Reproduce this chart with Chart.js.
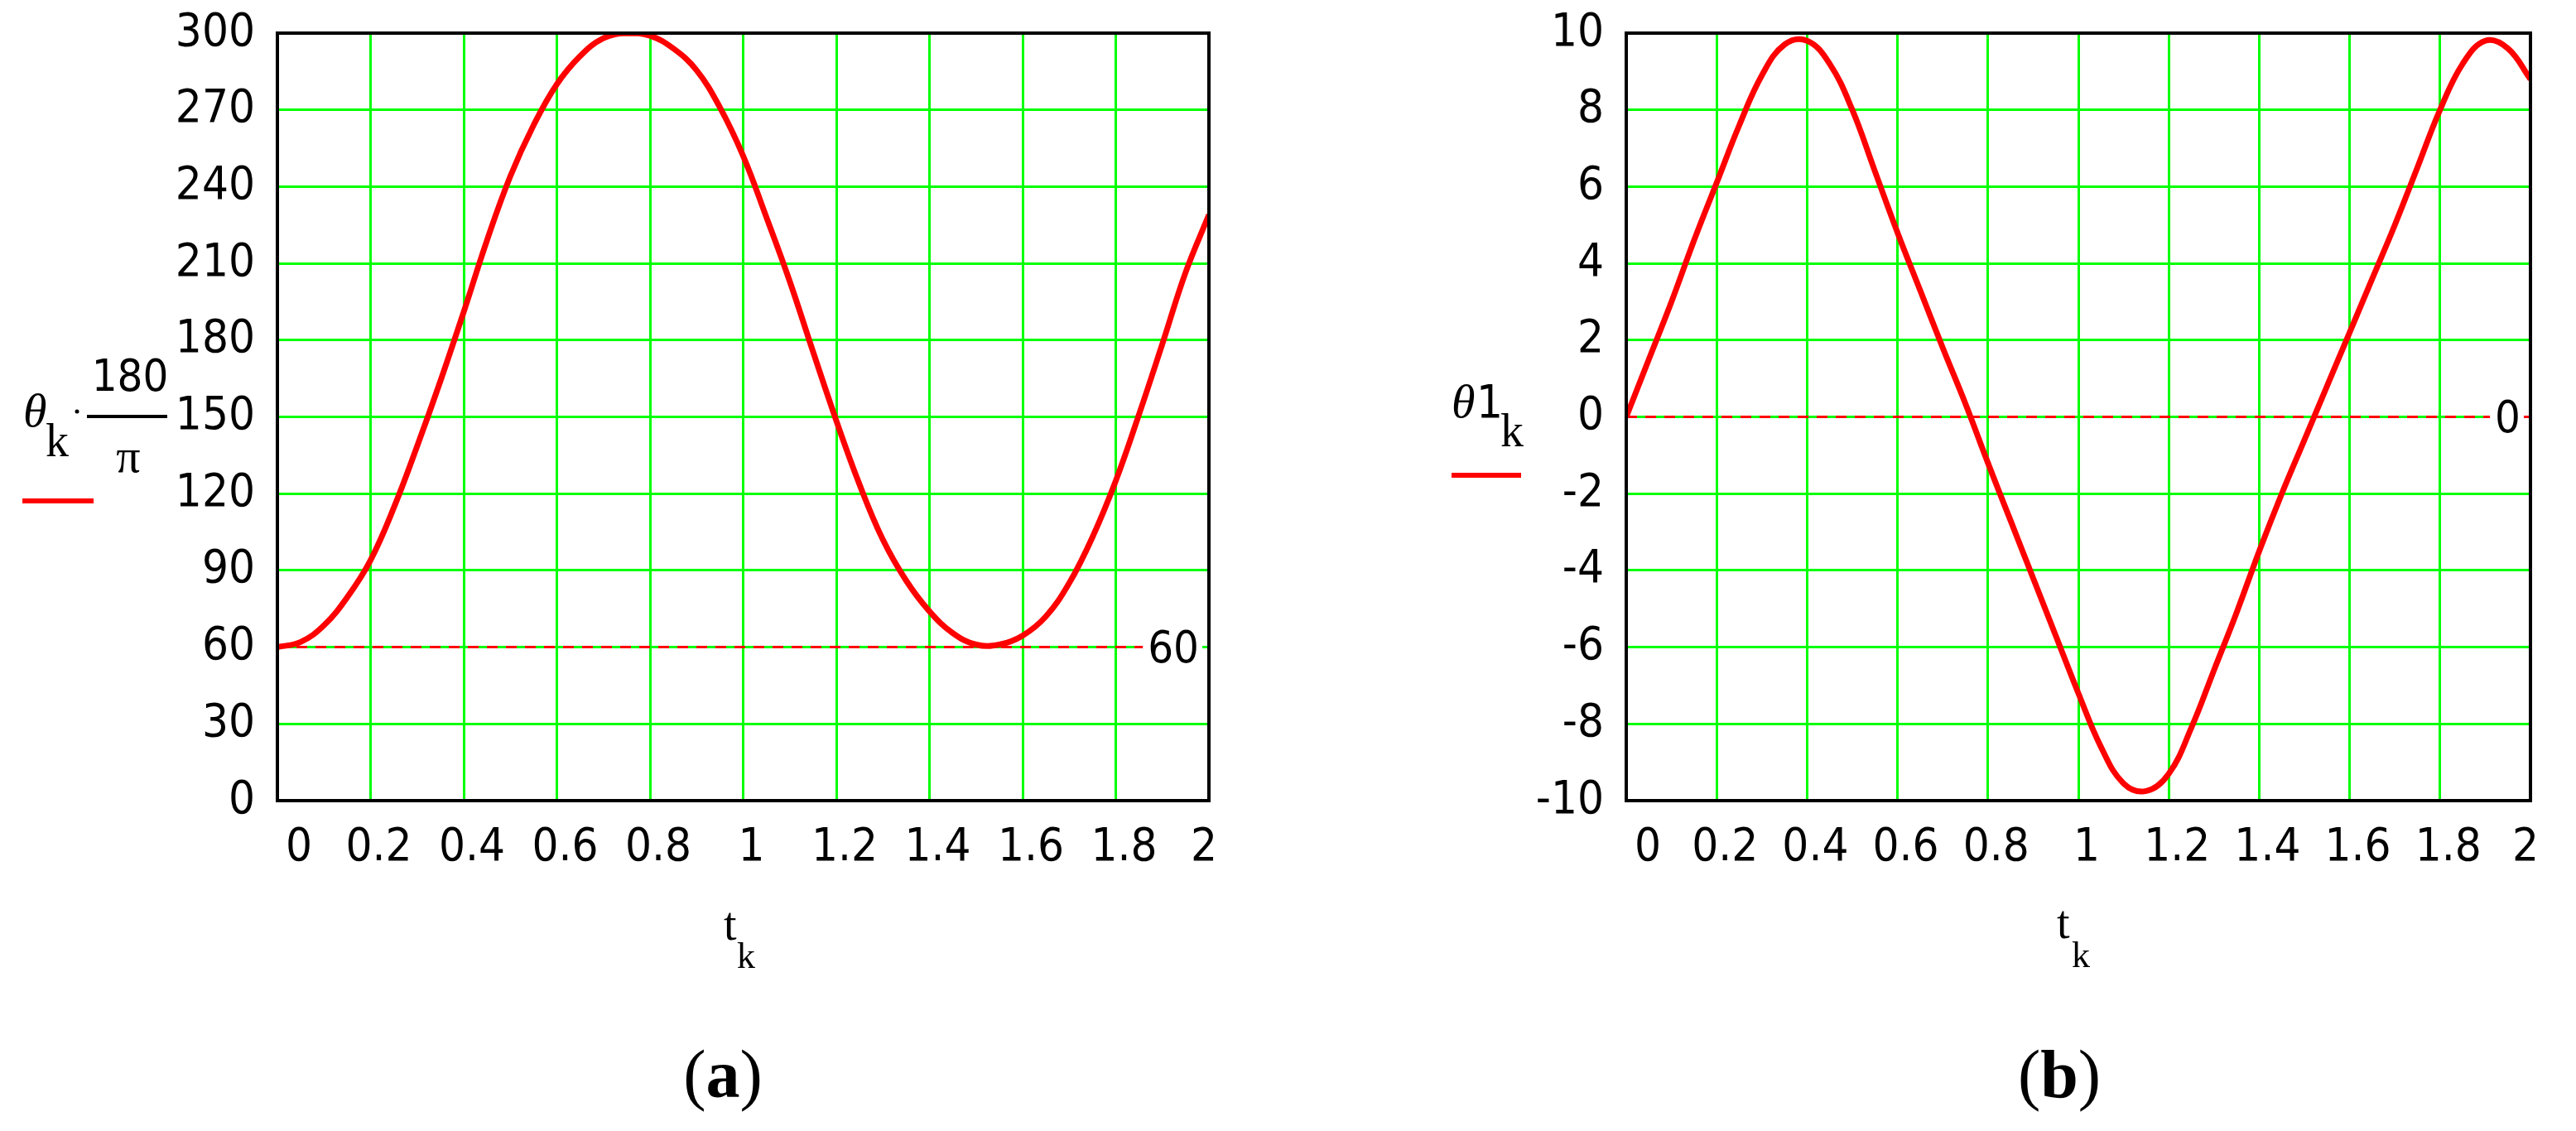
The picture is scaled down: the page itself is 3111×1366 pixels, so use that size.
<!DOCTYPE html>
<html>
<head>
<meta charset="utf-8">
<script src="https://cdn.jsdelivr.net/npm/chart.js@4.4.1/dist/chart.umd.min.js"></script>
<style>
  html, body { margin: 0; padding: 0; background: #fff; }
  body { width: 3111px; height: 1366px; position: relative; overflow: hidden; }
  canvas { position: absolute; top: 0; }
  #chartA { left: 0; }
  #chartB { left: 1540px; }
  svg { position: absolute; left: 0; top: 0; }
  .serif { font-family: 'Liberation Serif', 'DejaVu Serif', serif; }
  .narrow { font-family: 'Liberation Sans Narrow', 'DejaVu Sans Condensed', sans-serif; }
</style>
</head>
<body>
<canvas id="chartA" width="1520" height="1100"></canvas>
<canvas id="chartB" width="1571" height="1100"></canvas>
<svg width="3111" height="1366">
  <!-- (a) y title: theta_k * 180/pi -->
  <text class="serif" x="28" y="515" font-size="58" font-style="italic">θ</text>
  <text class="serif" x="55" y="551" font-size="56">k</text>
  <circle cx="93" cy="497" r="2.5" fill="#000"/>
  <text class="narrow" x="157" y="472" font-size="54" text-anchor="middle">180</text>
  <rect x="105" y="501" width="97" height="4" fill="#000"/>
  <text class="serif" x="155" y="570" font-size="58" text-anchor="middle">π</text>
  <rect x="27" y="602" width="86" height="6" fill="#ff0000"/>
  <!-- (b) y title: theta1_k -->
  <text class="serif" x="1753" y="504" font-size="58" font-style="italic">θ</text>
  <text class="narrow" x="1783" y="504" font-size="56">1</text>
  <text class="serif" x="1812" y="539" font-size="56">k</text>
  <rect x="1753" y="571" width="84" height="6" fill="#ff0000"/>
  <!-- x titles -->
  <text class="serif" x="874" y="1135" font-size="56">t</text>
  <text class="serif" x="890" y="1169" font-size="44">k</text>
  <text class="serif" x="2484" y="1133" font-size="56">t</text>
  <text class="serif" x="2502" y="1168" font-size="44">k</text>
  <!-- captions -->
  <text class="serif" x="873" y="1325" font-size="82" text-anchor="middle">(<tspan font-weight="bold">a</tspan>)</text>
  <text class="serif" x="2487" y="1325" font-size="82" text-anchor="middle">(<tspan font-weight="bold">b</tspan>)</text>
</svg>
<script>
// time samples t_k
const tValues = [0, 0.05, 0.1, 0.15, 0.2, 0.25, 0.3, 0.35, 0.4, 0.45, 0.5, 0.55, 0.6, 0.65, 0.7, 0.75, 0.8, 0.85, 0.9, 0.95,
                 1, 1.05, 1.1, 1.15, 1.2, 1.25, 1.3, 1.35, 1.4, 1.45, 1.5, 1.55, 1.6, 1.65, 1.7, 1.75, 1.8, 1.85, 1.9, 1.95, 2];

// (a) theta_k * 180/pi, degrees
const thetaDeg = [60, 62, 68.5, 79.5, 94, 114.5, 138.5, 164, 191, 219, 244, 264, 280, 291, 298, 300, 299, 294, 285.5, 271,
                  252, 228, 203, 175.5, 148.5, 123.5, 102, 86, 74, 65.5, 61, 61, 64.5, 72, 85, 103, 125, 151, 178.5, 206.5, 229];

// (b) theta1_k
const theta1 = [0, 1.5, 3.0, 4.6, 6.1, 7.6, 8.9, 9.7, 9.8, 9.2, 8.0, 6.4, 4.8, 3.3, 1.8, 0.35, -1.2, -2.7, -4.2, -5.7,
                -7.2, -8.6, -9.55, -9.75, -9.3, -8.1, -6.6, -5.1, -3.5, -2.0, -0.6, 0.8, 2.2, 3.6, 5.0, 6.5, 8.0, 9.2, 9.8, 9.6, 8.8];

// dashed marker lines
const markerA = 60;
const markerB = 0;

// tick labels
const xTickLabels = ['0', '0.2', '0.4', '0.6', '0.8', '1', '1.2', '1.4', '1.6', '1.8', '2'];
const yTicksA = [0, 30, 60, 90, 120, 150, 180, 210, 240, 270, 300];
const yTicksB = [-10, -8, -6, -4, -2, 0, 2, 4, 6, 8, 10];

const tickFamily = "'Liberation Sans Narrow', 'DejaVu Sans Condensed', sans-serif";
const tickFont = { family: tickFamily, size: 56 };

// black box round the plot plus the marker value written at the right end of the dashed line
const framePlugin = {
  id: 'mcFrame',
  afterDatasetsDraw(chart, args, opts) {
    const { ctx, chartArea: a, scales } = chart;
    const y = scales.y.getPixelForValue(opts.marker);
    const label = String(opts.marker);
    ctx.save();
    ctx.font = '54px ' + tickFamily;
    const w = ctx.measureText(label).width;
    const xr = a.right - 12;
    ctx.fillStyle = '#fff';
    ctx.fillRect(xr - w - 6, y - 6, w + 10, 12);
    ctx.fillStyle = '#000';
    ctx.textAlign = 'right';
    ctx.textBaseline = 'middle';
    ctx.fillText(label, xr, y + 4);
    ctx.lineWidth = 4;
    ctx.strokeStyle = '#000';
    ctx.strokeRect(a.left, a.top, a.width, a.height);
    ctx.restore();
  }
};

function makeChart(id, values, marker, yTicks, yAxisWidth, padRight) {
  const points = tValues.map((t, i) => ({ x: t, y: values[i] }));
  const markerLine = [{ x: tValues[0], y: marker }, { x: tValues[tValues.length - 1], y: marker }];
  return new Chart(document.getElementById(id), {
    type: 'line',
    data: {
      datasets: [
        {
          data: points,
          borderColor: '#ff0000',
          borderWidth: 7,
          pointRadius: 0,
          tension: 0.4,
          clip: 0
        },
        {
          data: markerLine,
          borderColor: '#ff0000',
          borderWidth: 3,
          borderDash: [13, 10],
          pointRadius: 0,
          clip: 0
        }
      ]
    },
    options: {
      responsive: false,
      animation: false,
      events: [],
      layout: { padding: { top: 40, right: padRight, left: 0, bottom: 0 } },
      plugins: {
        legend: { display: false },
        tooltip: { enabled: false },
        mcFrame: { marker: marker }
      },
      scales: {
        x: {
          type: 'linear',
          min: 0,
          max: 2,
          grid: { color: '#00ff00', lineWidth: 3, drawTicks: false },
          border: { display: false },
          ticks: {
            stepSize: 0.2,
            autoSkip: false,
            maxRotation: 0,
            align: 'inner',
            labelOffset: 10,
            padding: 24,
            color: '#000',
            font: tickFont,
            callback: (v, i) => xTickLabels[i]
          },
          afterFit: s => { s.height = 133; s.paddingLeft = 0; s.paddingRight = 0; }
        },
        y: {
          min: yTicks[0],
          max: yTicks[yTicks.length - 1],
          grid: { color: '#00ff00', lineWidth: 3, drawTicks: false },
          border: { display: false },
          ticks: {
            stepSize: yTicks[1] - yTicks[0],
            autoSkip: false,
            padding: 27,
            color: '#000',
            font: tickFont
          },
          afterFit: s => { s.width = yAxisWidth; s.paddingTop = 0; s.paddingBottom = 0; }
        }
      }
    },
    plugins: [framePlugin]
  });
}

makeChart('chartA', thetaDeg, markerA, yTicksA, 335, 60);
makeChart('chartB', theta1, markerB, yTicksB, 424, 55);
</script>
</body>
</html>
